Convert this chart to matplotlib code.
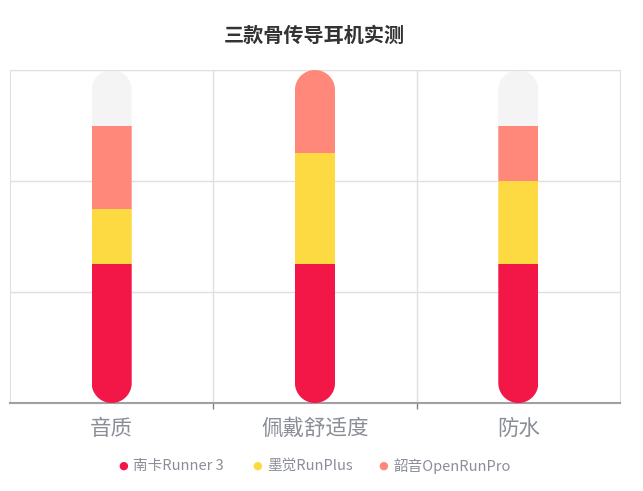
import matplotlib
matplotlib.use("Agg")
import matplotlib.pyplot as plt
from matplotlib.path import Path
from matplotlib.patches import PathPatch
import numpy as np

plt.rcParams['font.family'] = ['Noto Sans CJK SC', 'DejaVu Sans']

# data
categories = ['音质', '佩戴舒适度', '防水']
series_names = ['南卡Runner 3', '墨觉RunPlus', '韶音OpenRunPro']
nanka = [1.25, 1.25, 1.25]
mojue = [0.5, 1.0, 0.75]
shaoyin = [0.75, 0.75, 0.5]
y_max = 3
colors = ['#f31747', '#fdda41', '#ff887a']
bg_color = '#f4f4f4'

fig = plt.figure(figsize=(6.43, 4.91), dpi=100)
ax = fig.add_axes([10 / 643, 88 / 491, 610 / 643, 333 / 491])

x = np.arange(len(categories))
width = 0.197
ax.set_xlim(-0.5, len(categories) - 0.5)
ax.set_ylim(0, y_max)

# px per data unit, so the ends come out as half circles
px_x = 610 / len(categories)
px_y = 333 / y_max


def pill_path(xc, w, top):
    a = w / 2
    b = a * px_x / px_y
    t1 = np.linspace(np.pi, 2 * np.pi, 40)
    t2 = np.linspace(0, np.pi, 40)
    xs = np.concatenate([xc + a * np.cos(t1), xc + a * np.cos(t2)])
    ys = np.concatenate([b + b * np.sin(t1), top - b + b * np.sin(t2)])
    verts = np.column_stack([xs, ys])
    verts = np.vstack([verts, verts[:1]])
    codes = [Path.MOVETO] + [Path.LINETO] * (len(verts) - 2) + [Path.CLOSEPOLY]
    return Path(verts, codes)


series = [nanka, mojue, shaoyin]
for i, xi in enumerate(x):
    pill = PathPatch(pill_path(xi, width, y_max), transform=ax.transData,
                     facecolor='none', edgecolor='none')
    ax.add_patch(pill)
    bg = ax.bar(xi, y_max, width, color=bg_color, zorder=2)
    bg[0].set_clip_path(pill)
    bottom = 0
    for vals, c in zip(series, colors):
        b = ax.bar(xi, vals[i], width, bottom=bottom, color=c, zorder=3)
        b[0].set_clip_path(pill)
        bottom += vals[i]

# grid
for yv in range(1, y_max + 1):
    ax.axhline(yv, color='#e0e0e0', lw=1, zorder=1)
for xv in np.arange(0.5, len(categories) - 0.5):
    ax.axvline(xv, color='#e0e0e0', lw=1, zorder=1)

for s in ['top', 'right', 'left']:
    ax.spines[s].set_color('#e0e0e0')
ax.spines['bottom'].set_color('#a0a0a0')
ax.spines['bottom'].set_linewidth(1.5)

ax.set_yticks([])
ax.set_xticks(np.arange(0.5, len(categories) - 0.5), minor=False)
ax.set_xticklabels([])
ax.tick_params(axis='x', length=4, color='#808080', width=1)
ax.set_xticks(x, minor=True)
ax.set_xticklabels(categories, minor=True, fontsize=15.5, color='#8a8e97')
ax.tick_params(axis='x', which='minor', length=0, pad=11)

fig.text(0.489, 0.928, '三款骨传导耳机实测', ha='center', va='center',
         fontsize=14.5, fontweight='bold', color='#333333')

# legend
leg_x = [123, 257, 383]
for lx, name, c in zip(leg_x, series_names, colors):
    fig.text(lx / 643, 1 - 466 / 491, '●', ha='center', va='center',
             fontsize=8, color=c, family=['DejaVu Sans'])
    fig.text((lx + 10) / 643, 1 - 466 / 491, name, ha='left', va='center',
             fontsize=10.5, color='#8a8e97')

fig.savefig('out.png', dpi=100)
